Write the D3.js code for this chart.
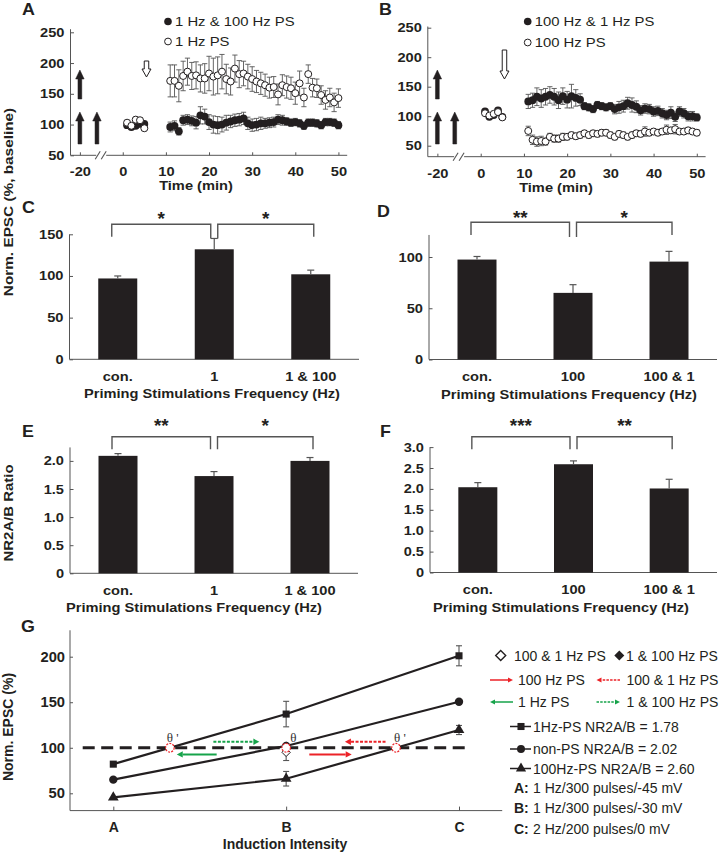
<!DOCTYPE html>
<html><head><meta charset="utf-8">
<script src="https://cdn.jsdelivr.net/npm/d3@7"></script>
<style>body{margin:0;background:#fff}svg{display:block}</style>
</head><body>
<svg id="c" width="722" height="853"></svg>
<script>
// ---------------- DATA ----------------
const timePre  = [1,2,3,4,5];
const timePost = [11,12,13,14,15,16,17,18,19,20,21,22,23,24,25,26,27,28,29,30,31,32,33,34,35,36,37,38,39,40,41,42,43,44,45,46,47,48,49,50];
const timeTicks = [-20,0,10,20,30,40,50];
const epscTicks = [50,100,150,200,250];

// Panel A
const legendA = ["1 Hz & 100 Hz PS", "1 Hz PS"];
const A_filledPre = [99,96,98,101,101];
const A_filledPreErr = [4,4,4,4,4];
const A_openPre = [103,98,108,107,94];
const A_openPreErr = [4,4,4,4,4];
const A_filledPost = [96,98,89,107,108,106,103,115,113,104,100,99,100,103,105,107,108,110,102,99,100,102,102,103,104,108,107,105,103,104,102,98,103,103,102,99,104,104,103,99];
const A_filledPostErr = [8,8,6,8,8,8,10,14,12,12,14,14,12,12,10,10,10,10,10,10,10,10,8,8,8,8,8,6,6,6,6,6,6,6,6,6,6,6,6,6];
const A_openPost = [171,171,163,179,186,179,180,175,175,183,178,180,186,174,170,191,182,183,178,174,170,167,164,160,161,149,164,161,159,151,167,144,182,160,159,148,140,144,136,143];
const A_openPostErr = [26,26,26,24,22,22,22,22,24,28,30,30,28,24,22,22,22,20,20,20,18,18,18,17,17,17,17,18,18,18,20,15,15,15,15,15,15,15,15,15];

// Panel B
const legendB = ["100 Hz & 1 Hz PS", "100 Hz PS"];
const B_filledPre = [108,99,102,110,99];
const B_filledPreErr = [3,3,3,3,3];
const B_openPre = [105,101,104,107,98];
const B_openPreErr = [3,3,3,3,3];
const B_filledPost = [125,127,133,130,133,136,133,127,134,128,134,131,128,117,115,112,119,117,115,117,112,115,117,122,119,116,110,113,112,108,109,105,102,106,99,108,105,100,100,98];
const B_filledPostErr = [12,12,15,15,14,14,14,14,14,14,20,14,10,6,6,6,6,6,6,6,8,10,10,10,12,10,8,8,8,8,8,8,8,10,8,8,8,8,8,6];
const B_openPost = [75,60,57,58,57,65,62,62,65,65,68,66,68,71,68,71,70,72,72,68,65,70,68,65,68,71,70,74,72,74,72,74,77,76,78,74,74,76,74,72];
const B_openPostErr = [8,8,8,8,6,6,6,6,6,5,5,5,5,5,5,5,5,5,5,5,5,5,5,5,5,5,5,8,5,5,5,5,8,5,8,5,5,5,5,5];

// Panels C-F (bars)
const catsC = ["con.", "1", "1 & 100"];
const valsC = [97, 132, 102];
const errsC = [3, 13, 5];
const starsC = ["*", "*"];
const ticksC = [0,50,100,150];

const catsD = ["con.", "100", "100 & 1"];
const valsD = [97.5, 65, 95.5];
const errsD = [3, 8, 10];
const starsD = ["**", "*"];
const ticksD = [0,50,100];

const catsE = ["con.", "1", "1 & 100"];
const valsE = [2.09, 1.73, 2.00];
const errsE = [0.04, 0.08, 0.06];
const starsE = ["**", "*"];
const ticksE = [0,0.5,1.0,1.5,2.0];

const catsF = ["con.", "100", "100 & 1"];
const valsF = [2.04, 2.59, 2.01];
const errsF = [0.11, 0.08, 0.22];
const starsF = ["***", "**"];
const ticksF = [0,0.5,1.0,1.5,2.0,2.5,3.0];

// Panel G
const catsG = ["A", "B", "C"];
const ticksG = [50,100,150,200];
const G_square = [82, 137, 201];     const G_squareErr = [0, 14, 11];
const G_circle = [65, 102, 150.5];   const G_circleErr = [0, 0, 2];
const G_tri    = [45.5, 66, 119.5];  const G_triErr = [0, 8, 5];
const G_openDiamond = 95;  const G_openDiamondErr = 9;   // 100 & 1 Hz PS at B
const G_fillDiamond = 102; const G_fillDiamondErr = 2;   // 1 & 100 Hz PS at B
const legendG_ratio = ["1Hz-PS NR2A/B = 1.78", "non-PS NR2A/B = 2.02", "100Hz-PS NR2A/B = 2.60"];
const legendG_cond = [["A:", "1 Hz/300 pulses/-45 mV"], ["B:", "1 Hz/300 pulses/-30 mV"], ["C:", "2 Hz/200 pulses/0 mV"]];

// ---------------- DRAW ----------------
const svg = d3.select('#c');
const INK = '#231f20', AXC = '#555555', RED = '#ec2227', GREEN = '#16a34a';
const SANS = '"Liberation Sans", Arial, Helvetica, sans-serif';
const K = 1.17;

function stretchOne(node, k){
  const L = node.getComputedTextLength();
  if (L > 0 && k && k !== 1){ node.setAttribute('textLength', (L*k).toFixed(1)); node.setAttribute('lengthAdjust','spacingAndGlyphs'); }
}
function txt(g, x, y, s, o = {}){
  const t = g.append('text').attr('x', x).attr('y', y).text(s)
    .attr('font-family', o.family || SANS).attr('font-size', o.size || 12)
    .attr('font-weight', o.weight || 'bold').attr('text-anchor', o.anchor || 'start')
    .attr('fill', o.fill || INK);
  if (o.rotate) t.attr('transform', `rotate(-90 ${x} ${y})`);
  if (o.k) stretchOne(t.node(), o.k);
  return t;
}
function styleTicks(sel, size, k){
  sel.select('.domain').remove();
  sel.selectAll('line').attr('stroke', AXC);
  sel.selectAll('text').attr('font-family', SANS).attr('font-size', size).attr('font-weight','bold').attr('fill', INK)
    .each(function(){ stretchOne(this, k); });
}
function vArrow(g, x, yTail, yHead, shaftW, headW, headL, fill){
  const dir = yHead < yTail ? -1 : 1;
  const yb = yHead - dir*headL;
  const p = `M${x-shaftW/2},${yTail} L${x-shaftW/2},${yb} L${x-headW/2},${yb} L${x},${yHead} L${x+headW/2},${yb} L${x+shaftW/2},${yb} L${x+shaftW/2},${yTail} Z`;
  g.append('path').attr('d', p).attr('fill', fill).attr('stroke', INK).attr('stroke-width', fill === '#fff' ? 1 : 0.5);
}
const diamond = s => `M0,${-s} L${s},0 L0,${s} L${-s},0 Z`;

// ---- Time-course panels ----
function timePanel(P){
  const g = svg.append('g');
  const x = d3.scaleLinear().domain([-22.2, -15, -5, 52.5]).range([P.xl, P.xb, P.xb, P.xr]);
  const y = d3.scaleLinear().domain([50, 250]).range([P.y50, P.y250]);
  const axY = y(P.yMin);
  g.append('line').attr('x1', P.xl).attr('x2', P.xl).attr('y1', axY).attr('y2', y(P.yMax)).attr('stroke', AXC);
  g.append('line').attr('x1', P.xl).attr('x2', P.xb - 5).attr('y1', axY).attr('y2', axY).attr('stroke', AXC);
  g.append('line').attr('x1', P.xb + 5).attr('x2', P.xr - 2).attr('y1', axY).attr('y2', axY).attr('stroke', AXC);
  [-5, 1].forEach(dx => g.append('line').attr('x1', P.xb + dx - 1).attr('y1', axY + 4).attr('x2', P.xb + dx + 4).attr('y2', axY - 4).attr('stroke', AXC).attr('stroke-width', 1.1));
  const ya = g.append('g').attr('transform', `translate(${P.xl},0)`)
    .call(d3.axisLeft(y).tickValues(epscTicks).tickSizeInner(-3.5).tickSizeOuter(0).tickPadding(6));
  styleTicks(ya, 12.5, K);
  const xa = g.append('g').attr('transform', `translate(0,${axY})`)
    .call(d3.axisBottom(x).tickValues(timeTicks).tickFormat(d => String(d)).tickSizeInner(-3).tickSizeOuter(0).tickPadding(12));
  styleTicks(xa, 12.5, K);
  txt(g, P.titleX, axY + 35, 'Time (min)', {size: 12.5, anchor: 'middle', k: K});
  txt(g, P.letterX, 15, P.letter, {size: 17, k: 1.05});

  // arrows
  vArrow(g, x(-20), 144, 112, 3.8, 8.5, 9, INK);
  vArrow(g, x(-20), 99, 70, 3.8, 8.5, 9, INK);
  vArrow(g, x(-16), 144, 112, 3.8, 8.5, 9, INK);
  vArrow(g, x(5.5), P.openTop, P.openBot, 4.5, 9, 8, '#fff');

  const T = timePre.concat(timePost);
  function series(vals, errs){
    const d = T.map((t, i) => ({t, v: vals[i], e: errs[i]}));
    const eb = g.append('g').attr('stroke', AXC).attr('stroke-width', 0.9);
    d.forEach(p => {
      eb.append('line').attr('x1', x(p.t)).attr('x2', x(p.t)).attr('y1', y(p.v - p.e)).attr('y2', y(p.v + p.e));
      [p.v - p.e, p.v + p.e].forEach(v => eb.append('line').attr('x1', x(p.t) - 2.6).attr('x2', x(p.t) + 2.6).attr('y1', y(v)).attr('y2', y(v)));
    });
    return d;
  }
  const dF = series(P.filled, P.filledErr);
  const dO = series(P.open, P.openErr);
  g.append('g').selectAll('circle').data(dF).join('circle').attr('cx', d => x(d.t)).attr('cy', d => y(d.v)).attr('r', 3.9).attr('fill', INK);
  g.append('g').selectAll('circle').data(dO).join('circle').attr('cx', d => x(d.t)).attr('cy', d => y(d.v)).attr('r', 3.5).attr('fill', '#fff').attr('stroke', INK).attr('stroke-width', 1);

  // legend
  g.append('circle').attr('cx', P.legX).attr('cy', P.legY[0] - 4.5).attr('r', 3.8).attr('fill', INK);
  g.append('circle').attr('cx', P.legX).attr('cy', P.legY[1] - 4.5).attr('r', 3.4).attr('fill', '#fff').attr('stroke', INK);
  P.legend.forEach((s, i) => txt(g, P.legX + 7, P.legY[i], s, {size: 13.5, weight: 'normal', k: 1.1}));
}

timePanel({letter: 'A', letterX: 22, xl: 70.5, xb: 101.2, xr: 349.2, y50: 155.3, y250: 32.3, yMin: 50, yMax: 255,
  titleX: 196, openTop: 61, openBot: 77,
  filled: A_filledPre.concat(A_filledPost), filledErr: A_filledPreErr.concat(A_filledPostErr),
  open: A_openPre.concat(A_openPost), openErr: A_openPreErr.concat(A_openPostErr),
  legend: legendA, legX: 168, legY: [26, 46]});
timePanel({letter: 'B', letterX: 379, xl: 427.8, xb: 459.1, xr: 707.6, y50: 145.7, y250: 27.7, yMin: 31.4, yMax: 252,
  titleX: 556, openTop: 50, openBot: 79,
  filled: B_filledPre.concat(B_filledPost), filledErr: B_filledPreErr.concat(B_filledPostErr),
  open: B_openPre.concat(B_openPost), openErr: B_openPreErr.concat(B_openPostErr),
  legend: legendB, legX: 527.7, legY: [26, 47]});

// ---- Bar panels ----
function barPanel(P){
  const g = svg.append('g');
  const x = d3.scalePoint().domain(P.cats).range([P.xl, P.xr]).padding(0.5);
  const y = d3.scaleLinear().domain([0, P.yRef]).range([P.y0, P.yRefPx]);
  g.append('line').attr('x1', P.xl).attr('x2', P.xl).attr('y1', y(0)).attr('y2', y(P.yTop)).attr('stroke', AXC);
  g.append('line').attr('x1', P.xl).attr('x2', P.xr).attr('y1', y(0)).attr('y2', y(0)).attr('stroke', AXC);
  const ya = g.append('g').attr('transform', `translate(${P.xl},0)`)
    .call(d3.axisLeft(y).tickValues(P.ticks).tickFormat(P.fmt).tickSizeInner(-3.5).tickSizeOuter(0).tickPadding(6));
  styleTicks(ya, 12.5, K);
  const bw = 39;
  P.cats.forEach((c, i) => {
    const cx = x(c);
    g.append('rect').attr('x', cx - bw/2).attr('width', bw).attr('y', y(P.vals[i])).attr('height', y(0) - y(P.vals[i])).attr('fill', INK);
    const top = y(P.vals[i] + P.errs[i]);
    g.append('line').attr('x1', cx).attr('x2', cx).attr('y1', y(P.vals[i])).attr('y2', top).attr('stroke', AXC).attr('stroke-width', 1.2);
    g.append('line').attr('x1', cx - 3.5).attr('x2', cx + 3.5).attr('y1', top).attr('y2', top).attr('stroke', AXC).attr('stroke-width', 1.2);
    txt(g, cx, y(0) + 21.5, c, {size: 12.5, anchor: 'middle', k: K});
  });
  txt(g, P.titleX, y(0) + 39, 'Priming Stimulations Frequency (Hz)', {size: 12.5, anchor: 'middle', k: K});
  txt(g, P.letterX, P.letterY, P.letter, {size: 17, k: 1.05});
  // brackets
  const c0 = x(P.cats[0]), c1 = x(P.cats[1]), c2 = x(P.cats[2]);
  const br = [[c0 - 6, c1 - 3.5], [c1 + 3.5, c2 + 3]];
  br.forEach((b, i) => {
    const legL = (i === 0) ? P.bLeg : P.bLegMid, legR = (i === 0) ? P.bLegMid : P.bLeg;
    g.append('path').attr('d', `M${b[0]},${legL} L${b[0]},${P.bTop} L${b[1]},${P.bTop} L${b[1]},${legR}`)
      .attr('fill', 'none').attr('stroke', AXC).attr('stroke-width', 1.4);
    txt(g, (b[0] + b[1]) / 2, P.starY + 9.4, P.stars[i], {size: 18, anchor: 'middle', k: 1.05});
  });
}
const f1 = d => d === 0 ? '0' : d3.format('.1f')(d);
barPanel({letter: 'C', letterX: 22, letterY: 213, cats: catsC, vals: valsC, errs: errsC, ticks: ticksC, fmt: d => String(d),
  xl: 69.5, xr: 359, y0: 359.3, yRef: 150, yRefPx: 234.3, yTop: 150, titleX: 212,
  bTop: 224.3, bLeg: 236.7, bLegMid: 238.5, starY: 216, stars: starsC});
barPanel({letter: 'D', letterX: 377, letterY: 217, cats: catsD, vals: valsD, errs: errsD, ticks: ticksD, fmt: d => String(d),
  xl: 429, xr: 717, y0: 359.5, yRef: 100, yRefPx: 257, yTop: 121.5, titleX: 569,
  bTop: 222.3, bLeg: 235, bLegMid: 237, starY: 214.5, stars: starsD});
barPanel({letter: 'E', letterX: 22, letterY: 437, cats: catsE, vals: valsE, errs: errsE, ticks: ticksE, fmt: f1,
  xl: 70, xr: 358, y0: 573.3, yRef: 2.0, yRefPx: 460.9, yTop: 2.24, titleX: 194,
  bTop: 436.7, bLeg: 449.3, bLegMid: 449.3, starY: 422.5, stars: starsE});
barPanel({letter: 'F', letterX: 380, letterY: 437, cats: catsF, vals: valsF, errs: errsF, ticks: ticksF, fmt: f1,
  xl: 430, xr: 717, y0: 572.5, yRef: 3.0, yRefPx: 447.1, yTop: 3.0, titleX: 561,
  bTop: 436.7, bLeg: 449.3, bLegMid: 449.3, starY: 422.5, stars: starsF});

// shared y labels
txt(svg, 12.5, 202, 'Norm. EPSC (%, baseline)', {size: 13, anchor: 'middle', rotate: true, k: 1.18});
txt(svg, 12.5, 513, 'NR2A/B  Ratio', {size: 13, anchor: 'middle', rotate: true, k: 1.15});

// ---- Panel G ----
(function(){
  const g = svg.append('g');
  const x = d3.scaleLinear().domain([0, 2]).range([113.3, 459]);
  const y = d3.scaleLinear().domain([50, 200]).range([793.3, 656.7]);
  const axY = y(31);
  g.append('line').attr('x1', 70).attr('x2', 70).attr('y1', axY).attr('y2', y(229)).attr('stroke', AXC);
  g.append('line').attr('x1', 70).attr('x2', x(2.25)).attr('y1', axY).attr('y2', axY).attr('stroke', AXC);
  const ya = g.append('g').attr('transform', 'translate(70,0)')
    .call(d3.axisLeft(y).tickValues(ticksG).tickSizeInner(-3).tickSizeOuter(0).tickPadding(5));
  styleTicks(ya, 14, 1.05);
  const xa = g.append('g').attr('transform', `translate(0,${axY})`)
    .call(d3.axisBottom(x).tickValues([0,1,2]).tickFormat(i => catsG[i]).tickSizeInner(-4).tickSizeOuter(0).tickPadding(11));
  styleTicks(xa, 14, 1);
  txt(g, 285, 849, 'Induction Intensity', {size: 14, anchor: 'middle'});
  txt(g, 13, 727, 'Norm. EPSC (%)', {size: 14, anchor: 'middle', rotate: true});
  txt(g, 21, 632, 'G', {size: 17, k: 1.05});

  // dashed 100% line
  g.append('line').attr('x1', x(-0.177)).attr('x2', x(2.046)).attr('y1', y(100)).attr('y2', y(100))
    .attr('stroke', INK).attr('stroke-width', 3).attr('stroke-dasharray', '12,6.5');

  const idx = [0, 1, 2];
  const line = d3.line().x(d => x(d[0])).y(d => y(d[1]));
  const sets = [[G_square, G_squareErr, d3.symbolSquare, 50], [G_circle, G_circleErr, d3.symbolCircle, 55], [G_tri, G_triErr, d3.symbolTriangle, 50]];
  sets.forEach(([v]) => g.append('path').attr('d', line(idx.map(i => [i, v[i]]))).attr('fill', 'none').attr('stroke', INK).attr('stroke-width', 2.2));
  function errBar(i, v, e){
    if (!e) return;
    g.append('line').attr('x1', x(i)).attr('x2', x(i)).attr('y1', y(v - e)).attr('y2', y(v + e)).attr('stroke', AXC).attr('stroke-width', 1.1);
    [v - e, v + e].forEach(w => g.append('line').attr('x1', x(i) - 3).attr('x2', x(i) + 3).attr('y1', y(w)).attr('y2', y(w)).attr('stroke', AXC).attr('stroke-width', 1.1));
  }
  sets.forEach(([v, e]) => idx.forEach(i => errBar(i, v[i], e[i])));
  errBar(1, G_openDiamond, G_openDiamondErr);
  sets.forEach(([v, e, sym, sz]) => idx.forEach(i => g.append('path').attr('d', d3.symbol(sym, sz)()).attr('transform', `translate(${x(i)},${y(v[i])})`).attr('fill', INK)));
  g.append('path').attr('d', diamond(4.5)).attr('transform', `translate(${x(1)},${y(G_fillDiamond)})`).attr('fill', INK);
  g.append('path').attr('d', diamond(4.2)).attr('transform', `translate(${x(1)},${y(G_openDiamond)})`).attr('fill', '#fff').attr('stroke', INK).attr('stroke-width', 1);

  // thresholds: intersections of lines with 100%
  function cross(v){ for (let i = 0; i < 2; i++){ if ((v[i] - 100) * (v[i+1] - 100) <= 0) return i + (100 - v[i]) / (v[i+1] - v[i]); } return null; }
  const thetas = [[cross(G_square), "θ '", -3], [1, "θ", 4], [cross(G_tri), "θ '", -2]];
  thetas.forEach(([t, lab, dx]) => {
    g.append('circle').attr('cx', x(t)).attr('cy', y(100)).attr('r', 4.3).attr('fill', '#fff').attr('stroke', RED).attr('stroke-width', 1.2).attr('stroke-dasharray', '2,1.2');
    txt(g, x(t) + dx, y(100) - 5.5, lab, {size: 13, weight: 'normal', family: '"Liberation Serif", "DejaVu Serif", serif', fill: '#333'});
  });

  function hArrow(x1, x2, yy, color, dashed){
    const dir = x2 > x1 ? 1 : -1, hl = 6;
    g.append('line').attr('x1', x1).attr('x2', x2 - dir*hl).attr('y1', yy).attr('y2', yy).attr('stroke', color).attr('stroke-width', 2)
      .attr('stroke-dasharray', dashed ? '3,1.5' : null);
    g.append('path').attr('d', `M${x2},${yy} L${x2 - dir*hl},${yy - 3.2} L${x2 - dir*hl},${yy + 3.2} Z`).attr('fill', color);
  }
  // shift arrows (in index units along x, % along y)
  hArrow(x(0.579), x(0.845), y(106.6), GREEN, true);
  hArrow(x(0.598), x(0.367), y(92.7), GREEN, false);
  hArrow(x(1.134), x(1.379), y(92.7), RED, false);
  hArrow(x(1.575), x(1.34), y(106.6), RED, true);

  // legend
  const L = svg.append('g');
  const lt = (xx, yy, s, o = {}) => txt(L, xx, yy, s, Object.assign({size: 14, weight: 'normal'}, o));
  L.append('path').attr('d', diamond(5)).attr('transform', 'translate(500.7,655.5)').attr('fill', '#fff').attr('stroke', INK).attr('stroke-width', 1.4);
  lt(514, 660.5, '100 & 1 Hz PS');
  L.append('path').attr('d', diamond(5)).attr('transform', 'translate(619.3,655.5)').attr('fill', INK);
  lt(626, 660.5, '1 & 100 Hz PS');
  const legArrow = (x1, x2, yy, c, d) => {
    const dir = x2 > x1 ? 1 : -1, hl = 5;
    L.append('line').attr('x1', x1).attr('x2', x2 - dir*hl).attr('y1', yy).attr('y2', yy).attr('stroke', c).attr('stroke-width', 1.5).attr('stroke-dasharray', d ? '2.5,1.2' : null);
    L.append('path').attr('d', `M${x2},${yy} L${x2 - dir*hl},${yy - 2.6} L${x2 - dir*hl},${yy + 2.6} Z`).attr('fill', c);
  };
  legArrow(490, 513, 680, RED, false);   lt(518, 685, '100 Hz PS');
  legArrow(620, 596.5, 680, RED, true);  lt(626.5, 685, '100 & 1 Hz PS');
  legArrow(513, 490, 702, GREEN, false); lt(518, 707, '1 Hz PS');
  legArrow(596.5, 620, 702, GREEN, true); lt(626.5, 707, '1 & 100 Hz PS');
  const syms = [[d3.symbolSquare, 50], [d3.symbolCircle, 50], [d3.symbolTriangle, 45]];
  const ry = [726.5, 749, 768.5];
  legendG_ratio.forEach((s, i) => {
    L.append('line').attr('x1', 510).attr('x2', 531).attr('y1', ry[i]).attr('y2', ry[i]).attr('stroke', INK).attr('stroke-width', 1.5);
    L.append('path').attr('d', d3.symbol(syms[i][0], syms[i][1])()).attr('transform', `translate(521,${ry[i]})`).attr('fill', INK);
    lt(533, ry[i] + 5, s);
  });
  const cy = [793, 813, 833.5];
  legendG_cond.forEach((c, i) => { lt(514, cy[i], c[0], {weight: 'bold'}); lt(533, cy[i], c[1]); });
})();
</script>
</body></html>
